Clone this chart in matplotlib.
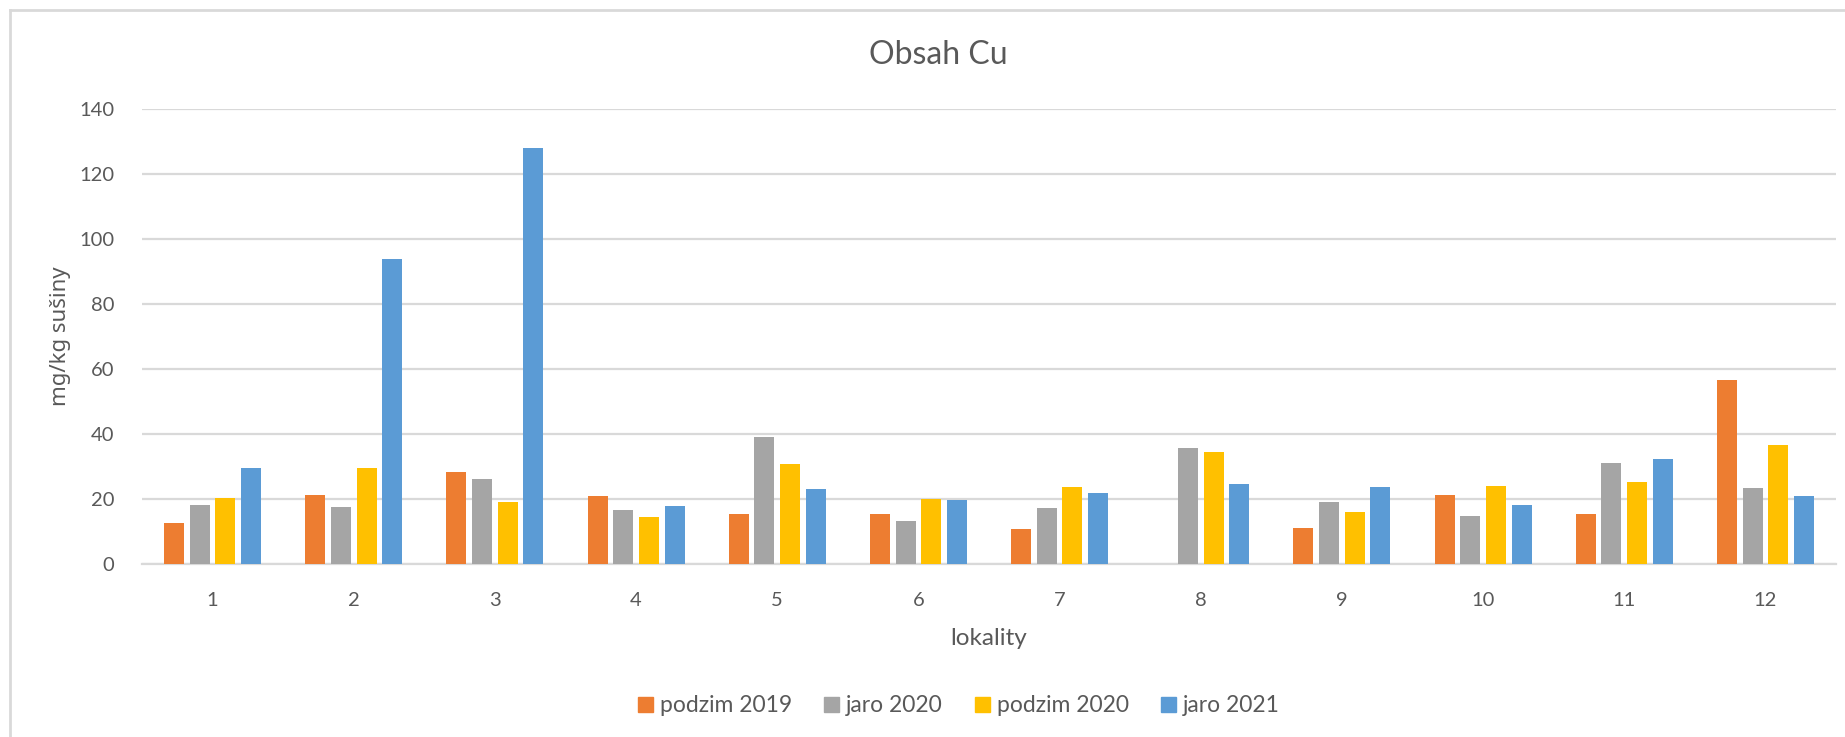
import matplotlib
matplotlib.use("Agg")
import matplotlib.pyplot as plt
import numpy as np
from matplotlib.lines import Line2D

plt.rcParams['font.family'] = ['Lato', 'DejaVu Sans']

lokality = ['1', '2', '3', '4', '5', '6', '7', '8', '9', '10', '11', '12']
podzim_2019 = [12.5, 21.2, 28.4, 20.8, 15.4, 15.5, 10.8, 0, 11.0, 21.1, 15.5, 56.5]
jaro_2020 = [18.2, 17.6, 26.3, 16.6, 39.0, 13.1, 17.2, 35.6, 19.0, 14.8, 31.1, 23.5]
podzim_2020 = [20.4, 29.6, 19.2, 14.6, 30.7, 20.0, 23.7, 34.5, 16.1, 23.9, 25.1, 36.5]
jaro_2021 = [29.5, 93.7, 128.1, 17.8, 23.1, 19.8, 21.7, 24.5, 23.7, 18.1, 32.2, 20.9]

series = [podzim_2019, jaro_2020, podzim_2020, jaro_2021]
names = ['podzim 2019', 'jaro 2020', 'podzim 2020', 'jaro 2021']
colors = ['#ED7D31', '#A5A5A5', '#FFC000', '#5B9BD5']
text_c = '#595959'
grid_c = '#d9d9d9'

W, H = 1845, 737
fig = plt.figure(figsize=(W / 100, H / 100), dpi=100)
ax = fig.add_axes([142 / W, 1 - 564 / H, (1836 - 142) / W, (564 - 109) / H])

x = np.arange(len(lokality))
pitch = 0.182
for k, (vals, nm, c) in enumerate(zip(series, names, colors)):
    ax.bar(x + (k - 1.5) * pitch, vals, width=0.142, color=c, label=nm, zorder=3)

ax.set_xlim(-0.5, len(lokality) - 0.5)
ax.set_ylim(0, 140)
ax.set_yticks(range(0, 141, 20))
ax.set_xticks(x)
ax.set_xticklabels(lokality)
ax.yaxis.grid(True, color=grid_c, linewidth=1.6, zorder=0)
ax.tick_params(axis='both', length=0, labelsize=14.5, colors=text_c)
ax.tick_params(axis='x', pad=20)
ax.tick_params(axis='y', pad=20)
for s in ['top', 'right', 'left']:
    ax.spines[s].set_visible(False)
ax.spines['bottom'].set_color(grid_c)
ax.spines['bottom'].set_linewidth(1.6)

ax.set_xlabel('lokality', fontsize=17.5, color=text_c, labelpad=14)
# Lato here has no caron on š
ax.set_ylabel('mg/kg sušiny', fontsize=16, color=text_c, labelpad=6,
              family=['Noto Sans', 'DejaVu Sans'])

fig.text(938 / W, 1 - 55 / H, 'Obsah Cu', fontsize=23, color=text_c, ha='center', va='center')

# legend
handles = [plt.Rectangle((0, 0), 1, 1, color=c) for c in colors]
fig.legend(handles, names, loc='center', bbox_to_anchor=(959 / W, 1 - 706 / H), ncol=4,
           frameon=False, fontsize=16.5, labelcolor=text_c, handlelength=0.65, handleheight=0.65,
           handletextpad=0.3, columnspacing=1.4)

# chart area border
fig.add_artist(Line2D([10 / W, 10 / W], [0, 1 - 10 / H], color=grid_c, linewidth=2, transform=fig.transFigure))
fig.add_artist(Line2D([10 / W, 1], [1 - 10 / H, 1 - 10 / H], color=grid_c, linewidth=2, transform=fig.transFigure))

fig.savefig('out.png', dpi=100, facecolor='white')
